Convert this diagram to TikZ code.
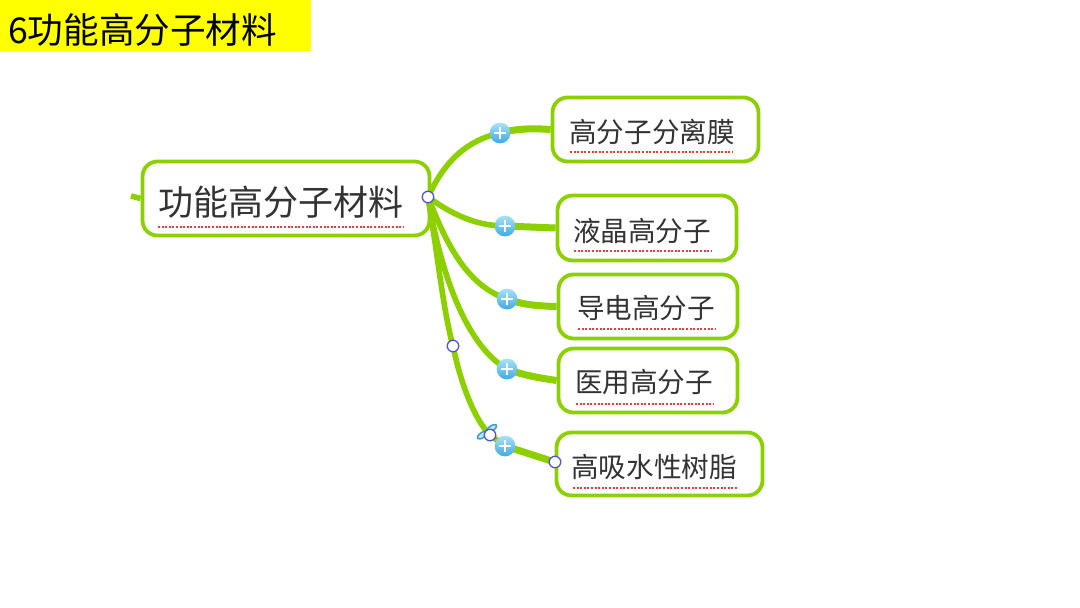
\documentclass[tikz,border=0pt]{standalone}
\usepackage{fontspec}
\setmainfont{Noto Sans CJK SC}
\usetikzlibrary{calc}
\definecolor{leaf}{HTML}{8CD000}
\definecolor{ink}{HTML}{333333}
\definecolor{handle}{HTML}{5050D8}
\definecolor{banner}{HTML}{FFFF00}
\definecolor{spell}{HTML}{F03A3A}
\definecolor{plustop}{HTML}{A8E2F8}
\definecolor{plusbot}{HTML}{3FA9E6}
\definecolor{clipline}{HTML}{3F9FC8}
\definecolor{clipfill}{HTML}{BFE6F5}
\tikzset{
  boxnode/.style={draw=leaf,line width=3.8pt,rounded corners=15pt,fill=white,inner sep=0pt},
  branch/.style={draw=leaf,line width=7pt,line cap=butt},
  thinbranch/.style={draw=leaf,line width=5.6pt},
  biglabel/.style={font=\fontsize{35}{38}\selectfont,text=ink,inner sep=0pt},
  smalllabel/.style={font=\fontsize{27.6}{31}\selectfont,text=ink,inner sep=0pt},
  squiggle/.style={draw=spell,line width=1.7pt,dash pattern=on 2pt off 1.6pt},
  plusnode/.style={circle,minimum size=20.5pt,inner sep=0pt,top color=plustop,bottom color=plusbot,draw=none,
    path picture={\draw[white,line width=2.4pt]
      ($(path picture bounding box.center)+(-6,0)$)--($(path picture bounding box.center)+(6,0)$)
      ($(path picture bounding box.center)+(0,-6)$)--($(path picture bounding box.center)+(0,6)$);}},
  handlenode/.style={circle,draw=handle,fill=white,line width=1.3pt,minimum size=11.5pt,inner sep=0pt},
  clipmark/.style={draw=clipline,fill=clipfill,line width=1.5pt}
}
\begin{document}
\begin{tikzpicture}[x=1pt,y=-1pt]
\useasboundingbox (0,0) rectangle (1080,608);
\fill[white] (0,0) rectangle (1080,608);
% title
\fill[banner] (0,0) rectangle (311,51);
\node[anchor=west,inner sep=0pt,font=\fontsize{35.6}{38}\selectfont,text=black] (title) at (8,30) {6功能高分子材料};
\coordinate (stub) at (131,196);
\coordinate (hub) at (428,197);
\coordinate (h2) at (453,346);
\coordinate (h3) at (490,435);
\node[boxnode,minimum width=287pt,minimum height=74pt] (root) at (286,198.5) {};
\node[boxnode,minimum width=206pt,minimum height=64pt] (b1) at (655.5,129.5) {};
\node[boxnode,minimum width=179pt,minimum height=65pt] (b2) at (647,228) {};
\node[boxnode,minimum width=179pt,minimum height=64pt] (b3) at (648,306.5) {};
\node[boxnode,minimum width=179pt,minimum height=64pt] (b4) at (648,380.5) {};
\node[boxnode,minimum width=206pt,minimum height=63pt] (b5) at (659.5,464) {};
\node[plusnode] (p1) at (500,133) {};
\node[plusnode] (p2) at (505,226) {};
\node[plusnode] (p3) at (507,299) {};
\node[plusnode] (p4) at (507,369) {};
\node[plusnode] (p5) at (505,446) {};
\draw[thinbranch] (stub) -- (root.west);
\draw[thinbranch] (hub) .. controls (445,160) and (468,140) .. (p1.center);
\draw[branch] (p1.center) .. controls (515,129) and (530,128) .. (b1.west);
\draw[thinbranch] (hub) .. controls (450,213) and (475,226) .. (p2.center);
\draw[branch] (p2.center) -- (b2.west);
\draw[thinbranch] (hub) .. controls (445,240) and (465,285) .. (p3.center);
\draw[branch] (p3.center) .. controls (520,304) and (535,306) .. (b3.west);
\draw[thinbranch] (hub) .. controls (440,270) and (465,345) .. (p4.center);
\draw[branch] (p4.center) .. controls (522,375) and (540,378) .. (b4.west);
\draw[thinbranch] (hub) .. controls (437,250) and (443,310) .. (h2) .. controls (461,385) and (475,420) .. (h3) -- (p5.center);
\draw[branch] (p5.center) -- (b5.west |- 0,462);
\node[plusnode] at (p1) {};
\node[plusnode] at (p2) {};
\node[plusnode] at (p3) {};
\node[plusnode] at (p4) {};
\node[plusnode] at (p5) {};
% labels
\node[biglabel] (t0) at (281,202) {功能高分子材料};
\node[smalllabel] (t1) at (652,132) {高分子分离膜};
\node[smalllabel] (t2) at (642,231) {液晶高分子};
\node[smalllabel] (t3) at (646,308) {导电高分子};
\node[smalllabel] (t4) at (644,382) {医用高分子};
\node[smalllabel] (t5) at (654,467) {高吸水性树脂};
% spell-check underlines
\draw[squiggle] (158,227) -- (403,227);
\draw[squiggle] (570,152) -- (733,152);
\draw[squiggle] (574,251) -- (711,251);
\draw[squiggle] (578,329) -- (716,329);
\draw[squiggle] (576,404) -- (714,404);
\draw[squiggle] (573,488) -- (737,488);
% editing handles
\draw[clipmark,rotate around={35:(491.5,428.5)}] (491.5,428.5) ellipse (6pt and 2.6pt);
\draw[clipmark,rotate around={35:(482.5,435)}] (482.5,435) ellipse (6pt and 2.6pt);
\node[handlenode] (g1) at (hub) {};
\node[handlenode] (g2) at (h2) {};
\node[handlenode] (g3) at (h3) {};
\node[handlenode] (g4) at (555,462) {};
\end{tikzpicture}
\end{document}
